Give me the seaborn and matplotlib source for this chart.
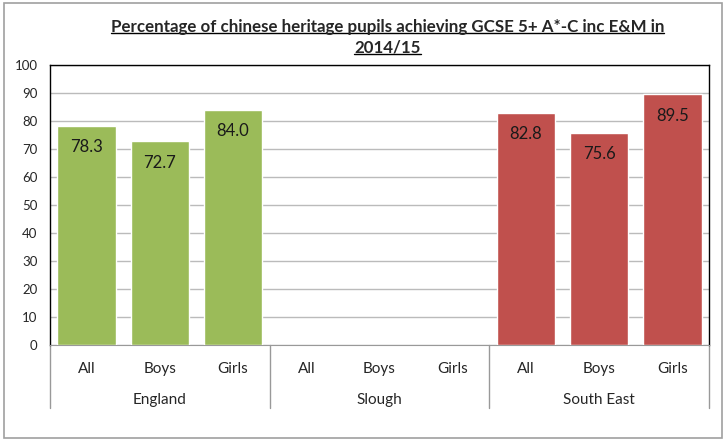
import pandas as pd
import seaborn as sns
import matplotlib.pyplot as plt
from matplotlib.patches import Rectangle
from matplotlib.transforms import blended_transform_factory

# data
regions = ["England", "Slough", "South East"]
groups = ["All", "Boys", "Girls"]
england = [78.3, 72.7, 84.0]
slough = [None, None, None]   # no data shown
south_east = [82.8, 75.6, 89.5]
colors = {"England": "#9BBB59", "Slough": "#4F81BD", "South East": "#C0504D"}

rows = []
for reg, vals in zip(regions, [england, slough, south_east]):
    for g, v in zip(groups, vals):
        if v is not None:
            rows.append({"key": reg + "|" + g, "region": reg, "group": g, "value": v})
df = pd.DataFrame(rows)
order = [r + "|" + g for r in regions for g in groups]

sns.set_style("white")
plt.rcParams["font.family"] = ["Lato", "DejaVu Sans"]

fig = plt.figure(figsize=(7.26, 4.43), dpi=100)
ax = fig.add_axes([0.0689, 0.2212, 0.9077, 0.6321])

sns.barplot(data=df, x="key", y="value", hue="region", order=order,
            hue_order=regions, palette=colors, dodge=False, width=0.8,
            saturation=1, errorbar=None, legend=False, ax=ax, zorder=3)

for c in ax.containers:
    ax.bar_label(c, fmt="%.1f", padding=-21, fontsize=12, color="#1a1a1a")

ax.set_ylim(0, 100)
ax.set_yticks(range(0, 101, 10))
ax.set_xlim(-0.5, 8.5)
ax.yaxis.grid(True, color="#BBBBBB", linewidth=1, zorder=0)
ax.set_axisbelow(True)
ax.tick_params(axis="y", length=0, pad=9, labelsize=9.5)
ax.set_xticks(range(9))
ax.set_xticklabels(groups * 3, fontsize=11)
ax.tick_params(axis="x", length=0, pad=12)
ax.set_xlabel("")
ax.set_ylabel("")
for s in ["left", "top", "right"]:
    ax.spines[s].set_color("black")
    ax.spines[s].set_linewidth(1)
ax.spines["bottom"].set_color("#999999")

# region labels and separators under the axis
tr = blended_transform_factory(ax.transData, ax.transAxes)
for i, reg in enumerate(regions):
    ax.text(3 * i + 1, -0.195, reg, transform=tr, ha="center", va="center", fontsize=11)
for xs in [-0.5, 2.5, 5.5, 8.5]:
    ax.plot([xs, xs], [0, -0.225], transform=tr, color="#999999", linewidth=1, clip_on=False)

# title, underlined
t1 = fig.text(0.534, 0.939, "Percentage of chinese heritage pupils achieving GCSE 5+ A*-C inc E&M in",
              ha="center", va="center", fontsize=12.2, fontweight="bold")
t2 = fig.text(0.534, 0.893, "2014/15", ha="center", va="center", fontsize=12.2, fontweight="bold")
fig.canvas.draw()
r = fig.canvas.get_renderer()
for t in [t1, t2]:
    bb = t.get_window_extent(r).transformed(fig.transFigure.inverted())
    fig.add_artist(plt.Line2D([bb.x0, bb.x1], [bb.y0 + 0.004, bb.y0 + 0.004],
                              transform=fig.transFigure, color="black", linewidth=1))

fig.add_artist(Rectangle((0.005, 0.011), 0.99, 0.982, transform=fig.transFigure,
                         fill=False, edgecolor="#A0A0A0", linewidth=1.2))

fig.savefig("out.png", dpi=100)
